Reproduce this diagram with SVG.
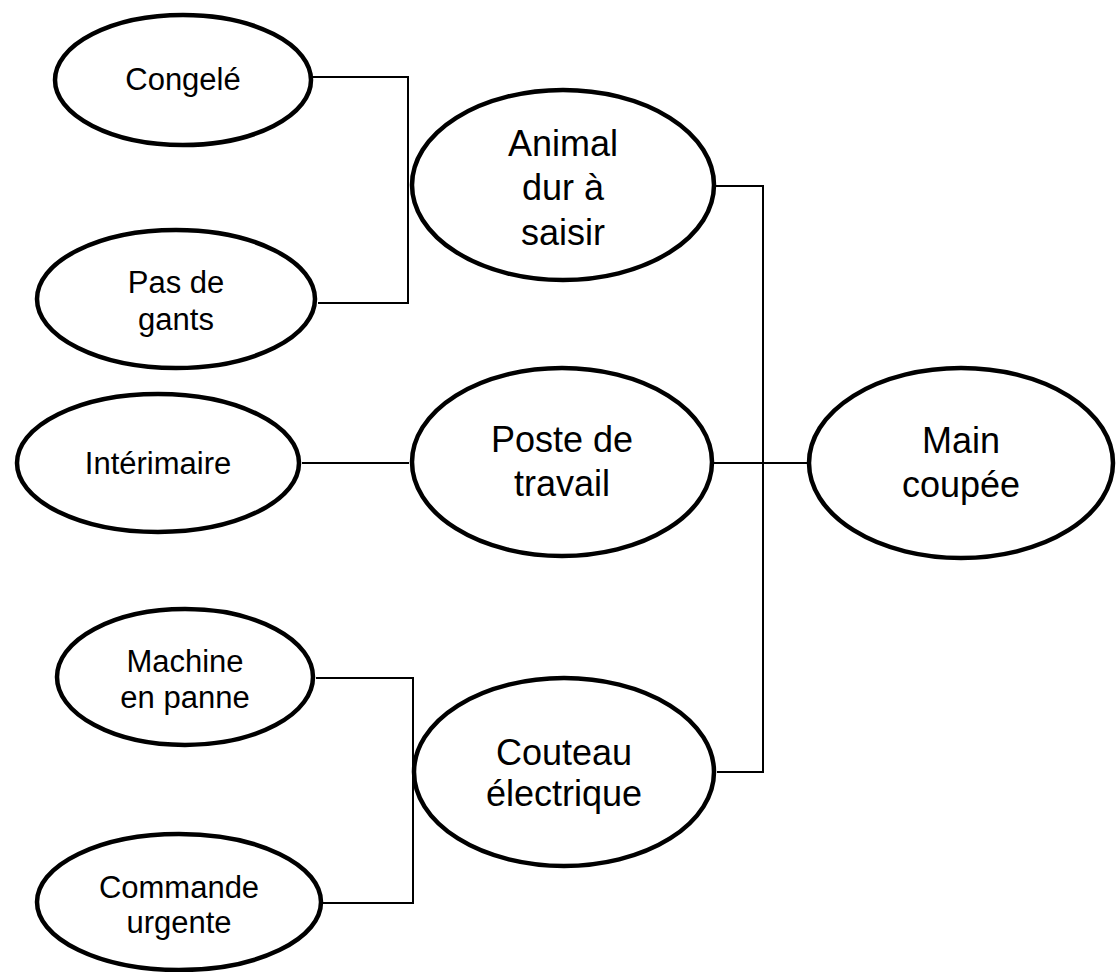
<svg xmlns="http://www.w3.org/2000/svg" width="1117" height="972" viewBox="0 0 1117 972">
<style>
.n{fill:#fff;stroke:#000;stroke-width:4.5}
.c{fill:none;stroke:#000;stroke-width:2}
.s{font-family:"Liberation Sans",Arial,sans-serif;font-size:31px;text-anchor:middle;fill:#000}
.b{font-family:"Liberation Sans",Arial,sans-serif;font-size:36px;text-anchor:middle;fill:#000}
</style>
<rect width="1117" height="972" fill="#fff"/>
<g id="connectors">
<path class="c" d="M312,77 H408 V303 H318"/>
<path class="c" d="M716,186 H763 V772 H717"/>
<path class="c" d="M714,463 H807"/>
<path class="c" d="M302,463 H409"/>
<path class="c" d="M316,678 H413 V903 H323"/>
</g>
<g id="congele"><ellipse class="n" cx="183" cy="80" rx="128" ry="65"/><text class="s" x="183" y="90">Congelé</text></g>
<g id="pas-de-gants"><ellipse class="n" cx="176" cy="299" rx="139" ry="69"/><text class="s" x="176" y="293">Pas de</text><text class="s" x="176" y="330">gants</text></g>
<g id="animal"><ellipse class="n" cx="563" cy="185" rx="151" ry="95"/><text class="b" x="563" y="156">Animal</text><text class="b" x="563" y="200">dur à</text><text class="b" x="563" y="245">saisir</text></g>
<g id="interimaire"><ellipse class="n" cx="158" cy="463" rx="141" ry="69"/><text class="s" x="158" y="474">Intérimaire</text></g>
<g id="poste"><ellipse class="n" cx="562" cy="462" rx="150" ry="94"/><text class="b" x="562" y="452">Poste de</text><text class="b" x="562" y="496">travail</text></g>
<g id="main"><ellipse class="n" cx="961" cy="463" rx="152" ry="95"/><text class="b" x="961" y="453">Main</text><text class="b" x="961" y="497">coupée</text></g>
<g id="machine"><ellipse class="n" cx="185" cy="677" rx="128" ry="68"/><text class="s" x="185" y="672">Machine</text><text class="s" x="185" y="708">en panne</text></g>
<g id="commande"><ellipse class="n" cx="179" cy="902" rx="142" ry="68"/><text class="s" x="179" y="898">Commande</text><text class="s" x="179" y="933">urgente</text></g>
<g id="couteau"><ellipse class="n" cx="564" cy="772" rx="150" ry="94"/><text class="b" x="564" y="765">Couteau</text><text class="b" x="564" y="806">électrique</text></g>
</svg>
